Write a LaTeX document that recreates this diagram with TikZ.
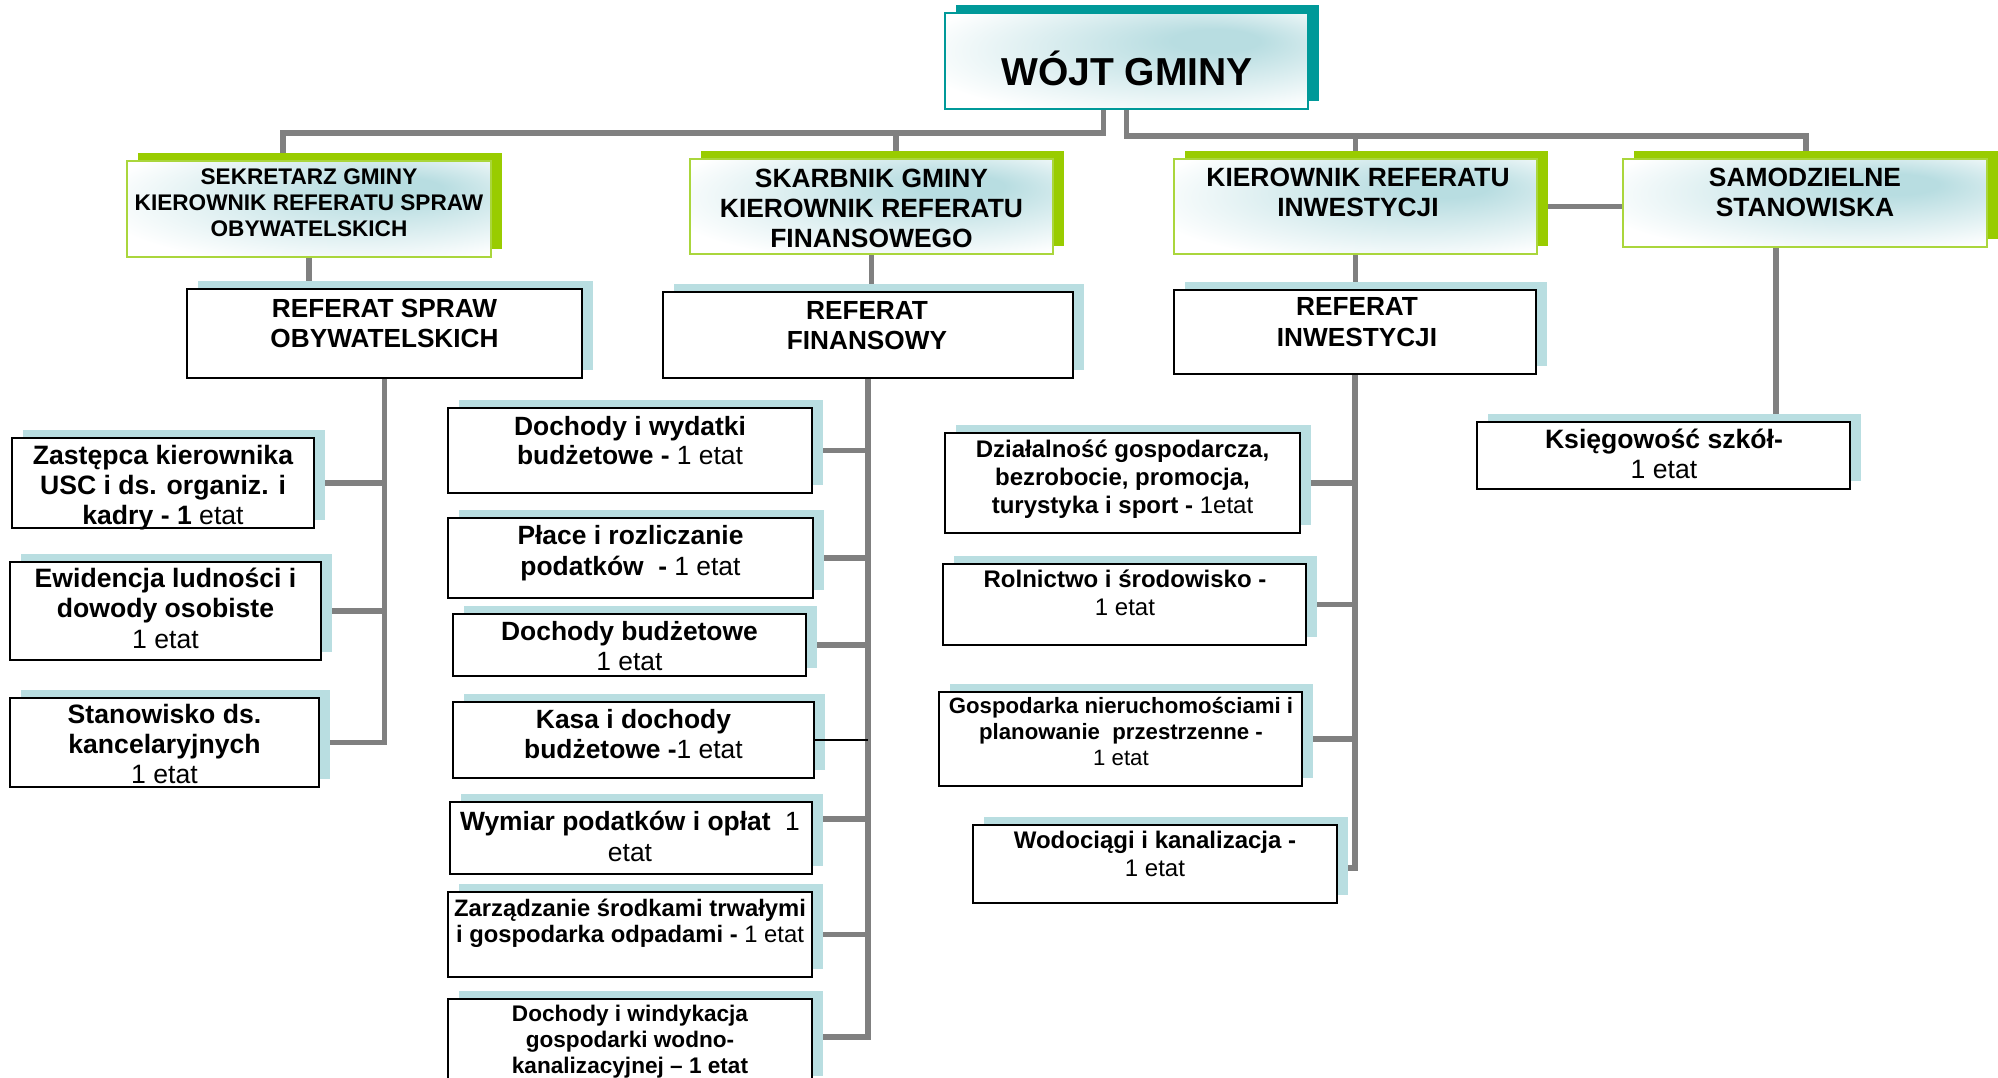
\documentclass[tikz,border=0pt]{standalone}
\usepackage{fontspec}
\setmainfont{Liberation Sans}
\usetikzlibrary{calc,shadows}
\definecolor{cgray}{RGB}{128,128,128}
\definecolor{tealc}{RGB}{0,153,153}
\definecolor{grn}{RGB}{153,204,0}
\definecolor{grnb}{RGB}{170,214,60}
\definecolor{sblue}{RGB}{185,222,225}
\definecolor{gblue}{RGB}{184,221,225}
\pgfdeclareradialshading{topright}{\pgfpoint{14bp}{12bp}}{color(0bp)=(gblue); color(6bp)=(gblue); color(34bp)=(white); color(50bp)=(white)}
\pgfdeclarelayer{bg}
\pgfsetlayers{bg,main}
\tikzset{
  conn/.style={draw=cgray, line width=2.8pt},
  thinconn/.style={draw=black, line width=0.6pt},
  sz/.style 2 args={minimum width=#1*0.5pt, minimum height=#2*0.5pt},
  grad/.style={rectangle, inner sep=0pt, shade, shading=topright},
  headbox/.style={grad, draw=grnb, line width=0.8pt, general shadow={fill=grn, shadow xshift=5.5pt, shadow yshift=4pt}},
  chiefbox/.style={grad, draw=tealc, line width=0.8pt, general shadow={fill=tealc, shadow xshift=5.5pt, shadow yshift=4pt}},
  unitbox/.style={rectangle, inner sep=0pt, fill=white, draw=black, line width=1pt, general shadow={fill=sblue, shadow xshift=5.5pt, shadow yshift=4pt}},
  txt/.style={anchor=base, align=center, inner sep=0pt},
  fs/.style 2 args={font=\fontsize{#1pt}{#2pt}\selectfont\bfseries},
}
\begin{document}
\begin{tikzpicture}[x=0.5pt, y=-0.5pt]
\useasboundingbox (0,0) rectangle (1998,1077);
\begin{pgfonlayer}{bg}
\fill[white] (0,0) rectangle (1998,1077);
\end{pgfonlayer}

% top level (text nodes are anchored at the baseline of their last line)
\node[chiefbox, sz={363}{96}] (wojt) at (1126.5,61) {};
\node[txt, fs={19.5}{23}] (wojtT) at (1127,85) {WÓJT GMINY};

\node[headbox, sz={364}{96}] (sek) at (309,209) {};
\node[txt, fs={11.3}{13}] (sekT) at (309,236) {SEKRETARZ GMINY\\KIEROWNIK REFERATU SPRAW\\OBYWATELSKICH};

\node[headbox, sz={363}{95}] (skb) at (871.5,206.5) {};
\node[txt, fs={13.2}{15}] (skbT) at (871.5,247) {SKARBNIK GMINY\\KIEROWNIK REFERATU\\FINANSOWEGO};

\node[headbox, sz={363}{95}] (kinw) at (1355.5,206.5) {};
\node[txt, fs={13.2}{15}] (kinwT) at (1358,216) {KIEROWNIK REFERATU\\INWESTYCJI};

\node[headbox, sz={364}{88}] (sam) at (1805,203) {};
\node[txt, fs={13.2}{15}] (samT) at (1805,216) {SAMODZIELNE\\STANOWISKA};

% referaty
\node[unitbox, sz={395}{89}] (rso) at (384.5,333.5) {};
\node[txt, fs={13.1}{15}] (rsoT) at (384.5,347) {REFERAT SPRAW\\OBYWATELSKICH};

\node[unitbox, sz={410}{86}] (rfin) at (868,335) {};
\node[txt, fs={13.1}{15}] (rfinT) at (867,349) {REFERAT\\FINANSOWY};

\node[unitbox, sz={362}{84}] (rinw) at (1355,332) {};
\node[txt, fs={13.1}{15.5}] (rinwT) at (1357,346) {REFERAT\\INWESTYCJI};

% left column
\node[unitbox, sz={302}{90}] (z1) at (163,483) {};
\node[txt, fs={13.3}{15}] (z1T) at (163,524) {Zastępca kierownika\\USC i ds. organiz. i\\kadry - 1 {\mdseries etat}};
\node[unitbox, sz={311}{98}] (z2) at (165.5,611) {};
\node[txt, fs={13.3}{15.2}] (z2T) at (165.5,648) {Ewidencja ludności i\\dowody osobiste\\{\mdseries 1 etat}};
\node[unitbox, sz={309}{89}] (z3) at (164.5,742.5) {};
\node[txt, fs={13.3}{15}] (z3T) at (164.5,783) {Stanowisko ds.\\kancelaryjnych\\{\mdseries 1 etat}};

% middle column
\node[unitbox, sz={364}{85}] (f1) at (630,450.5) {};
\node[txt, fs={13.2}{14.5}] (f1T) at (630,464) {Dochody i wydatki\\budżetowe - {\mdseries 1 etat}};
\node[unitbox, sz={365}{80}] (f2) at (630.5,558) {};
\node[txt, fs={13.2}{15.5}] (f2T) at (630.5,575) {Płace i rozliczanie\\podatków\ \ - {\mdseries 1 etat}};
\node[unitbox, sz={353}{62}] (f3) at (629.5,645) {};
\node[txt, fs={13.2}{15}] (f3T) at (629.5,670) {Dochody budżetowe\\{\mdseries 1 etat}};
\node[unitbox, sz={361}{76}] (f4) at (633.5,740) {};
\node[txt, fs={13.2}{15}] (f4T) at (633.5,758) {Kasa i dochody\\budżetowe -{\mdseries 1 etat}};
\node[unitbox, sz={362}{72}] (f5) at (631,838) {};
\node[txt, fs={13.2}{15.5}] (f5T) at (630,861) {Wymiar podatków i opłat\ \ {\mdseries 1}\\{\mdseries etat}};
\node[unitbox, sz={364}{85}] (f6) at (630,934.5) {};
\node[txt, fs={11.9}{13}] (f6T) at (630,942) {Zarządzanie środkami trwałymi\\i gospodarka odpadami - {\mdseries 1 etat}};
\node[unitbox, sz={364}{85}] (f7) at (630,1041.5) {};
\node[txt, fs={11.3}{13}] (f7T) at (630,1073) {Dochody i windykacja\\gospodarki wodno-\\kanalizacyjnej – 1 etat};

% right column
\node[unitbox, sz={355}{100}] (i1) at (1122.5,483) {};
\node[txt, fs={12}{14}] (i1T) at (1122.5,513) {Działalność gospodarcza,\\bezrobocie, promocja,\\turystyka i sport - {\mdseries 1etat}};
\node[unitbox, sz={363}{81}] (i2) at (1124.5,604.5) {};
\node[txt, fs={12}{14}] (i2T) at (1125,615) {Rolnictwo i środowisko -\\{\mdseries 1 etat}};
\node[unitbox, sz={363}{94}] (i3) at (1120.5,739) {};
\node[txt, fs={11.1}{13}] (i3T) at (1121,765) {Gospodarka nieruchomościami i\\planowanie\ \ przestrzenne -\\{\mdseries 1 etat}};
\node[unitbox, sz={364}{78}] (i4) at (1155,864) {};
\node[txt, fs={12}{14}] (i4T) at (1155,876) {Wodociągi i kanalizacja -\\{\mdseries 1 etat}};

% far right
\node[unitbox, sz={373}{67}] (k1) at (1663.5,455.5) {};
\node[txt, fs={13.3}{15}] (k1T) at (1664,478) {Księgowość szkół-\\{\mdseries 1 etat}};

% connectors
\coordinate (wl) at ($(wojt.south)+(-23,0)$);
\coordinate (sekd) at ($(sek.north)+(-26,0)$);
\coordinate (skbd) at ($(skb.north)+(24.5,0)$);
\coordinate (samd) at ($(sam.north)+(1,0)$);
\coordinate (samb) at ($(sam.south)+(-29,0)$);
\coordinate (f5c) at ($(f5.east)+(0,-19)$);
\coordinate (f7c) at ($(f7.east)+(0,-4.5)$);
\coordinate (i4c) at ($(i4.east)+(0,4)$);
\begin{pgfonlayer}{bg}
\draw[conn] (wl) |- ($(sekd)+(0,-27)$) -- (sekd);
\draw[conn] (skbd) -- ++(0,-25);
\draw[conn] (wojt.south) |- ($(samd)+(0,-22)$) -- (samd);
\draw[conn] (kinw.north) -- ++(0,-22);
\draw[conn] (kinw.east) -- (kinw.east -| sam.west);
\draw[conn] (sek.south) -- (sek.south |- rso.north);
\draw[conn] (skb.south) -- (skb.south |- rfin.north);
\draw[conn] (kinw.south) -- (kinw.south |- rinw.north);
\draw[conn] (samb) -- (samb |- k1.north);
% left branch
\draw[conn] (rso.south) |- (z3.east);
\draw[conn] (rso.south |- z1.east) -- (z1.east);
\draw[conn] (rso.south |- z2.east) -- (z2.east);
% middle branch
\draw[conn] (rfin.south) |- (f7c);
\draw[conn] (rfin.south |- f1.east) -- (f1.east);
\draw[conn] (rfin.south |- f2.east) -- (f2.east);
\draw[conn] (rfin.south |- f3.east) -- (f3.east);
\draw[conn] (rfin.south |- f5c) -- (f5c);
\draw[conn] (rfin.south |- f6.east) -- (f6.east);
% right branch
\draw[conn] (rinw.south) |- (i4c);
\draw[conn] (rinw.south |- i1.east) -- (i1.east);
\draw[conn] (rinw.south |- i2.east) -- (i2.east);
\draw[conn] (rinw.south |- i3.east) -- (i3.east);
\end{pgfonlayer}
\draw[thinconn] (f4.east) -- (rfin.south |- f4.east);
\end{tikzpicture}
\end{document}
